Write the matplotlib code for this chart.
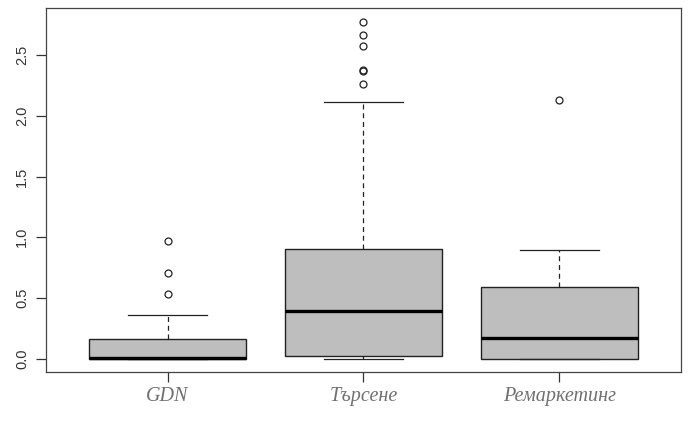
import matplotlib
matplotlib.use("Agg")
import matplotlib.pyplot as plt

# values
labels = ["GDN", "Търсене", "Ремаркетинг"]
whisker_low = [0.0, 0.0, 0.0]
q1 = [0.0, 0.019, 0.0]
median = [0.003, 0.393, 0.170]
q3 = [0.157, 0.899, 0.586]
whisker_high = [0.355, 2.117, 0.891]
outliers = [
    [0.533, 0.704, 0.965],
    [2.261, 2.370, 2.380, 2.579, 2.667, 2.777],
    [2.130],
]

stats = []
for i, name in enumerate(labels):
    stats.append({
        "label": name,
        "whislo": whisker_low[i],
        "q1": q1[i],
        "med": median[i],
        "q3": q3[i],
        "whishi": whisker_high[i],
        "fliers": outliers[i],
    })

fig = plt.figure(figsize=(6.96, 4.22), dpi=100)
ax = fig.add_axes([0.0661, 0.1185, 0.9123, 0.8625])

edge = "#222222"
ax.bxp(
    stats,
    positions=[1, 2, 3],
    widths=0.8,
    capwidths=0.4,
    patch_artist=True,
    boxprops=dict(facecolor="#bebebe", edgecolor=edge, linewidth=1.0),
    medianprops=dict(color="black", linewidth=2.4, solid_capstyle="butt"),
    whiskerprops=dict(color=edge, linewidth=0.9, linestyle=(0, (4, 3))),
    capprops=dict(color=edge, linewidth=0.9),
    flierprops=dict(marker="o", markersize=5, markerfacecolor="none",
                    markeredgecolor=edge, markeredgewidth=0.9),
)

ax.set_xlim(0.38, 3.62)
ax.set_ylim(-0.111, 2.89)

ax.set_yticks([0.0, 0.5, 1.0, 1.5, 2.0, 2.5])
ax.set_yticklabels(["0.0", "0.5", "1.0", "1.5", "2.0", "2.5"],
                   rotation=90, va="center", fontsize=10.5,
                   family="Liberation Sans", color="#333333")
ax.set_xticks([1, 2, 3])
ax.set_xticklabels(labels, family="Liberation Serif", style="italic",
                   fontsize=14.5, color="#707070")
ax.tick_params(axis="both", length=7, width=0.9, color="#333333")
ax.tick_params(axis="y", pad=5)
ax.tick_params(axis="x", pad=4)

for s in ax.spines.values():
    s.set_color("#444444")
    s.set_linewidth(0.9)

fig.savefig("out.png", dpi=100)
